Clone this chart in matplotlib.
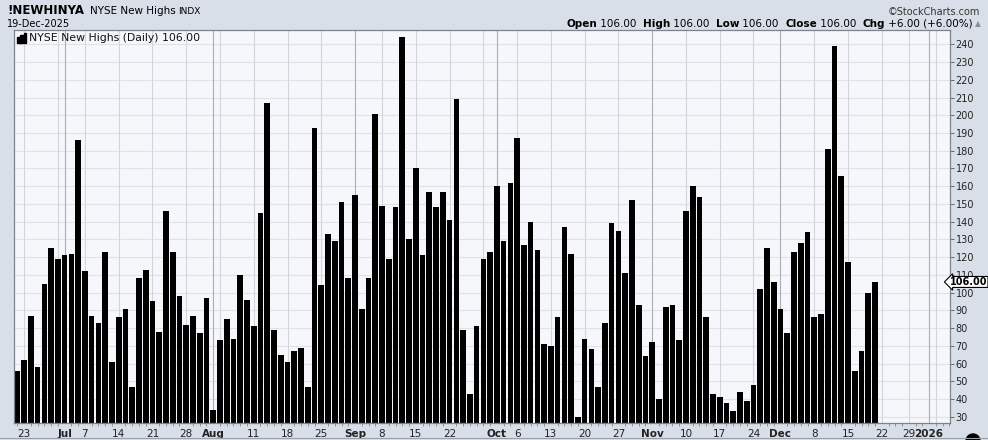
import pandas as pd
import numpy as np
import matplotlib
matplotlib.use('Agg')
import matplotlib.pyplot as plt
from matplotlib.patches import Rectangle, Ellipse

# NYSE new highs, daily, 20-Jun-2025 .. 19-Dec-2025
new_highs = [56, 62, 87, 58, 105, 125, 119,                                   # Jun
             121, 122, 186, 112, 87, 83, 123, 61, 86, 91, 47, 108, 113,
             95, 78, 146, 123, 98, 82, 87, 77, 97,                            # Jul
             34, 73, 85, 74, 110, 96, 81, 145, 207, 79, 65, 61, 67, 69,
             47, 193, 104, 133, 129, 151, 108,                                # Aug
             155, 91, 108, 201, 149, 119, 148, 244, 130, 170, 121, 157,
             148, 157, 141, 209, 79, 43, 81, 119, 123,                        # Sep
             160, 129, 162, 187, 127, 140, 124, 71, 70, 86, 137, 122, 30,
             74, 68, 47, 83, 139, 135, 111, 152, 93, 64,                      # Oct
             72, 40, 92, 93, 73, 146, 160, 154, 86, 43, 41, 38, 33, 44,
             39, 48, 102, 125, 106,                                           # Nov
             91, 77, 123, 128, 134, 86, 88, 181, 239, 166, 117, 56, 67,
             100, 106]                                                        # Dec

start_date = '2025-06-20'
end_date = '2026-01-09'   # axis runs on past the last bar
holidays = ['2025-07-04', '2025-09-01', '2025-11-27', '2025-12-25', '2026-01-01']
y_ticks = list(range(30, 250, 10))
last_value = 106.00

## trading days
days = pd.bdate_range(start_date, end_date)
days = days[~days.isin(pd.to_datetime(holidays))]
x = np.arange(len(new_highs))

# grid/tick positions: first trading day of each week and of each month
month_pos, week_pos = [], []
for i in range(1, len(days)):
    if days[i].month != days[i - 1].month:
        month_pos.append(i)
    elif days[i].isocalendar()[1] != days[i - 1].isocalendar()[1]:
        week_pos.append(i)

tick_pos, tick_lbl, tick_bold = [], [], []
for i in month_pos:
    tick_pos.append(i)
    tick_lbl.append(str(days[i].year) if days[i].month == 1 else days[i].strftime('%b'))
    tick_bold.append(True)
for i in week_pos:
    if min(abs(i - m) for m in month_pos) < 3:
        continue
    tick_pos.append(i)
    tick_lbl.append(str(days[i].day))
    tick_bold.append(False)

## figure
W, H = 988, 440
bg = '#d9dfe8'
fig = plt.figure(figsize=(W / 100, H / 100), dpi=100, facecolor=bg)

def px(x0, y0):
    return x0 / W, 1 - y0 / H

ax = fig.add_axes([14 / W, (H - 423) / H, (950 - 14) / W, (423 - 30) / H])
ax.set_facecolor('#f5f7fb')

for v in y_ticks:
    ax.axhline(v, color='#dfe2e8', lw=0.8, zorder=0)
for i in week_pos:
    ax.axvline(i, color='#d2d5dc', lw=0.8, zorder=0)
for i in month_pos:
    ax.axvline(i, color='#a9adb5', lw=0.8, zorder=0)

ax.bar(x, new_highs, width=0.84, color='black', zorder=2)

ax.yaxis.tick_right()
ax.set_yticks(y_ticks)
ax.set_yticklabels([str(v) for v in y_ticks], fontsize=7, color='#222222')
ax.tick_params(axis='y', length=3, width=0.6, color='#555555', pad=1)

ax.set_xticks(tick_pos)
ax.set_xticklabels(tick_lbl, fontsize=7.5, color='#222222')
for t, b in zip(ax.get_xticklabels(), tick_bold):
    if b:
        t.set_fontweight('bold')
ax.tick_params(axis='x', length=0, pad=4)
ax.set_xticks(np.arange(len(days)), minor=True)
ax.tick_params(axis='x', which='minor', length=2, width=0.6, color='#888888')

# limits last, so the tick calls can't widen them
ax.set_xlim(-0.5, 138.1)
ax.set_ylim(26.45, 248.1)

for s in ax.spines.values():
    s.set_color('#7d838c')
    s.set_linewidth(0.9)

# last value marker on the right axis
ax.annotate('%.2f' % last_value, xy=(1.0, last_value), xycoords=('axes fraction', 'data'),
            xytext=(0, 0), textcoords='offset points', fontsize=7, fontweight='bold',
            va='center', ha='left', zorder=5, annotation_clip=False,
            bbox=dict(boxstyle='larrow,pad=0.05', fc='white', ec='black', lw=0.8))

# legend inside the plot
for k, hgt in enumerate([6, 8, 10]):
    fig.add_artist(Rectangle(px(17 + k * 3.3, 43), 2.6 / W, hgt / H,
                             transform=fig.transFigure, color='black'))
fig.text(*px(29, 38), 'NYSE New Highs (Daily) 106.00', fontsize=7.8,
         va='center', ha='left', color='#111111')

## header
fig.text(*px(7, 11), '!NEWHINYA', fontsize=8.5, fontweight='bold', va='center')
fig.text(*px(90, 11), 'NYSE New Highs', fontsize=7.5, va='center')
fig.text(*px(178, 11), 'INDX', fontsize=6.5, va='center')
fig.text(*px(7, 24), '19-Dec-2025', fontsize=7, va='center')
fig.text(*px(980, 12), '\u00a9StockCharts.com', fontsize=7, va='center', ha='right',
         color='#333333')

renderer = fig.canvas.get_renderer()
parts = [('Open', True), (' 106.00  ', False), ('High', True), (' 106.00  ', False),
         ('Low', True), (' 106.00  ', False), ('Close', True), (' 106.00  ', False),
         ('Chg', True), (' +6.00 (+6.00%)', False)]
xc = 566
for s, b in parts:
    t = fig.text(*px(xc, 24), s, fontsize=7.5, va='center', ha='left',
                 fontweight='bold' if b else 'normal')
    xc += t.get_window_extent(renderer).width
fig.text(*px(xc + 2, 24), '\u25b2', fontsize=5.5, va='center', ha='left', color='#8a9099')

# bottom strip
fig.add_artist(plt.Line2D([0, 1], [1 - 438 / H] * 2, transform=fig.transFigure,
                          color='#9aa0aa', lw=0.8))
fig.add_artist(Ellipse(px(973, 441), 14 / W, 14 / H, transform=fig.transFigure,
                       color='black'))

fig.savefig('out.png', dpi=100, facecolor=bg)
